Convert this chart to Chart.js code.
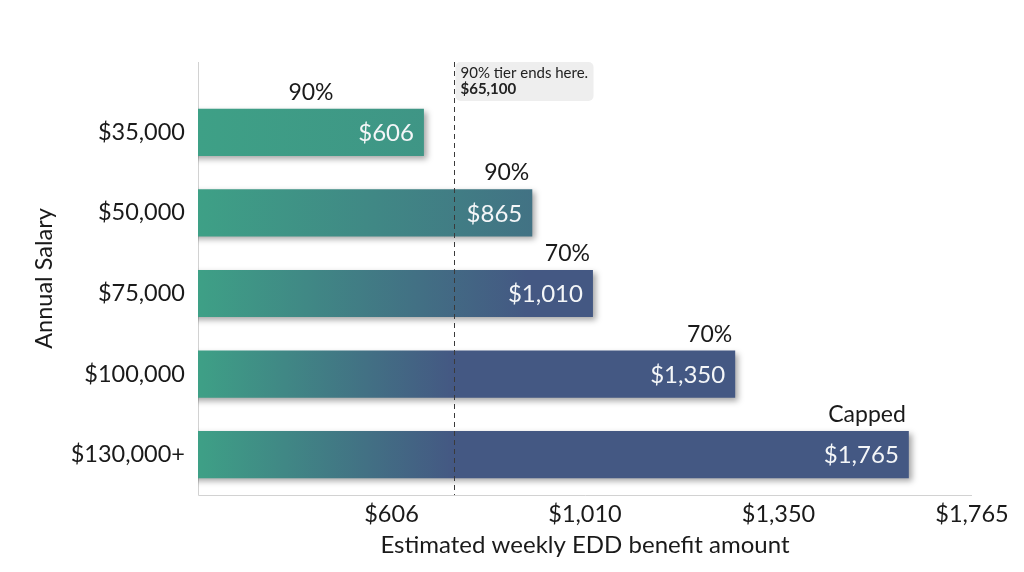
<!DOCTYPE html>
<html>
<head>
<meta charset="utf-8">
<script src="https://cdn.jsdelivr.net/npm/chart.js@4.4.1/dist/chart.umd.min.js"></script>
<style>
  html, body { margin: 0; padding: 0; background: #fff; }
  #wrap { width: 1024px; height: 572px; position: relative; }
</style>
</head>
<body>
<div id="wrap"><canvas id="edd"></canvas></div>
<script>
const salaries = ['$35,000', '$50,000', '$75,000', '$100,000', '$130,000+'];
const weeklyBenefit = [606, 865, 1010, 1350, 1765];
const benefitLabels = ['$606', '$865', '$1,010', '$1,350', '$1,765'];
const tierLabels = ['90%', '90%', '70%', '70%', 'Capped'];
const xTickLabels = ['$606', '$1,010', '$1,350', '$1,765'];
const tierEnd = 678; // dashed marker on the benefit scale
const tierNote = ['90% tier ends here.', '$65,100'];
const xMin = 66;
const xMax = 1916;

const teal = [62, 160, 134];
const navy = [68, 88, 131];
const rgb = c => `rgb(${c[0]}, ${c[1]}, ${c[2]})`;
const FONT = 'Lato, "Noto Sans", sans-serif';

// bars fade from teal to navy; short bars never get all the way there
function barFill(c) {
  const chart = c.chart;
  const area = chart.chartArea;
  if (!area || c.type !== 'data') return rgb(teal);
  const v = weeklyBenefit[c.dataIndex];
  const reach = area.width * 0.33 * Math.max(1, Math.pow(1100 / v, 3));
  const g = chart.ctx.createLinearGradient(area.left, 0, area.left + reach, 0);
  g.addColorStop(0, rgb(teal));
  g.addColorStop(1, rgb(navy));
  return g;
}

const overlay = {
  id: 'overlay',
  beforeDatasetsDraw(chart) {
    const { ctx, chartArea: a } = chart;
    ctx.save();
    ctx.strokeStyle = '#d2d2d2';
    ctx.lineWidth = 1;
    ctx.beginPath();
    ctx.moveTo(a.left + 0.5, a.top - 30);
    ctx.lineTo(a.left + 0.5, a.bottom + 0.5);
    ctx.lineTo(a.right, a.bottom + 0.5);
    ctx.stroke();
    ctx.restore();

    ctx.save();
    ctx.shadowColor = 'rgba(0, 0, 0, 0.35)';
    ctx.shadowBlur = 6;
    ctx.shadowOffsetX = 3;
    ctx.shadowOffsetY = 3;
  },
  afterDatasetsDraw(chart) {
    const { ctx, chartArea: a } = chart;
    ctx.restore();

    // tier marker
    const lx = Math.round(chart.scales.x.getPixelForValue(tierEnd)) + 0.5;
    ctx.save();
    ctx.strokeStyle = '#3a3a3a';
    ctx.lineWidth = 1;
    ctx.setLineDash([5, 4]);
    ctx.beginPath();
    ctx.moveTo(lx, a.top - 30);
    ctx.lineTo(lx, a.bottom);
    ctx.stroke();
    ctx.setLineDash([]);

    ctx.fillStyle = '#eeeeee';
    ctx.beginPath();
    ctx.roundRect(lx + 1, a.top - 30, 138, 39, 5);
    ctx.fill();
    ctx.fillStyle = '#222';
    ctx.textAlign = 'left';
    ctx.textBaseline = 'middle';
    ctx.font = `15px ${FONT}`;
    ctx.fillText(tierNote[0], lx + 6, a.top - 19);
    ctx.font = `bold 15px ${FONT}`;
    ctx.fillText(tierNote[1], lx + 6, a.top - 3);

    // value and tier labels
    const bars = chart.getDatasetMeta(0).data;
    bars.forEach((bar, i) => {
      const { x, y, height } = bar.getProps(['x', 'y', 'height'], true);
      ctx.font = `24px ${FONT}`;
      ctx.fillStyle = '#f4f6f8';
      ctx.textAlign = 'right';
      ctx.textBaseline = 'middle';
      ctx.fillText(benefitLabels[i], x - 10, y + 1);

      ctx.font = `23px ${FONT}`;
      ctx.fillStyle = '#1a1a1a';
      ctx.textBaseline = 'alphabetic';
      if (i === 0) {
        ctx.textAlign = 'center';
        ctx.fillText(tierLabels[i], (x + a.left) / 2, y - height / 2 - 9);
      } else {
        ctx.textAlign = 'right';
        ctx.fillText(tierLabels[i], x - 3, y - height / 2 - 9);
      }
    });
    ctx.restore();
  },
  afterDraw(chart) {
    const { ctx, chartArea: a } = chart;
    ctx.save();
    ctx.translate(44, (a.top - 30 + a.bottom) / 2);
    ctx.rotate(-Math.PI / 2);
    ctx.font = `23.5px ${FONT}`;
    ctx.fillStyle = '#1a1a1a';
    ctx.textAlign = 'center';
    ctx.textBaseline = 'middle';
    ctx.fillText('Annual Salary', 0, 0);
    ctx.restore();
  }
};

function draw() {
  Chart.defaults.font.family = FONT;
  new Chart(document.getElementById('edd'), {
    type: 'bar',
    data: {
      labels: salaries,
      datasets: [{
        label: 'Estimated weekly EDD benefit',
        data: weeklyBenefit,
        backgroundColor: barFill,
        borderWidth: 0,
        categoryPercentage: 1,
        barPercentage: 0.585,
        xAxisID: 'x',
      }]
    },
    options: {
      indexAxis: 'y',
      responsive: true,
      maintainAspectRatio: false,
      animation: false,
      layout: { padding: { top: 92, right: 52, left: 0, bottom: 0 } },
      plugins: { legend: { display: false }, tooltip: { enabled: false } },
      scales: {
        x: { type: 'linear', display: false, min: xMin, max: xMax },
        x2: {
          type: 'category',
          position: 'bottom',
          labels: ['', ...xTickLabels],
          offset: false,
          grid: { display: false, drawTicks: false },
          border: { display: false },
          ticks: {
            autoSkip: false, maxRotation: 0, padding: 5,
            color: '#1a1a1a', font: { size: 23.5 }
          },
          title: {
            display: true,
            text: 'Estimated weekly EDD benefit amount',
            color: '#1a1a1a',
            font: { size: 24 },
            padding: { top: 0, bottom: 12 }
          },
          afterFit: s => { s.height = 77; }
        },
        y: {
          grid: { display: false, drawTicks: false },
          border: { display: false },
          ticks: { padding: 13, color: '#1a1a1a', font: { size: 23.5 } },
          afterFit: s => { s.width = 198; }
        }
      }
    },
    plugins: [overlay]
  });
}

if (document.fonts && document.fonts.load) {
  Promise.all([
    document.fonts.load('22px Lato'),
    document.fonts.load('bold 15px Lato')
  ]).then(draw, draw);
} else {
  draw();
}
</script>
</body>
</html>
